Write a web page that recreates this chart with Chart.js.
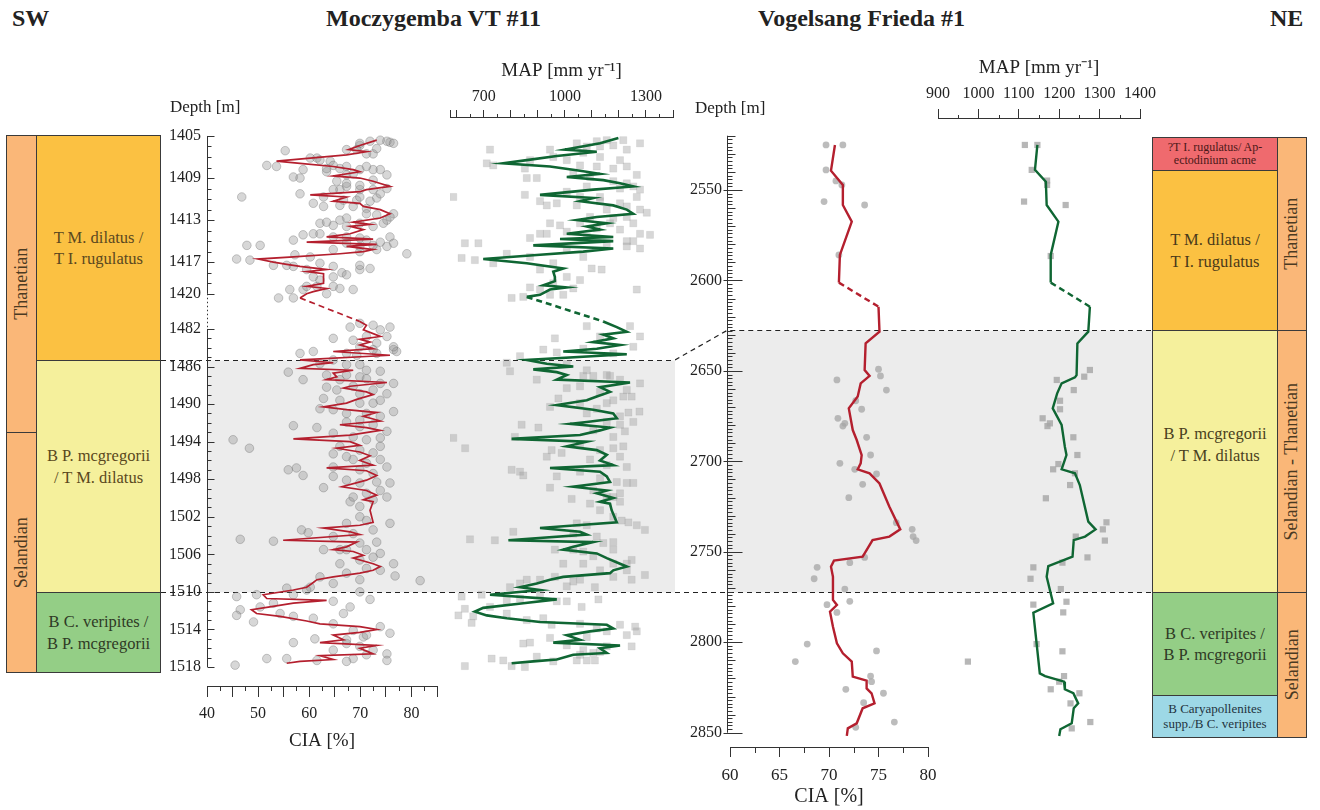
<!DOCTYPE html>
<html>
<head>
<meta charset="utf-8">
<title>CIA and MAP – Moczygemba VT #11 / Vogelsang Frieda #1</title>
<script src="https://cdn.jsdelivr.net/npm/chart.js@4.4.1/dist/chart.umd.min.js"></script>
<style>
  body { margin: 0; background: #fff; font-family: 'Liberation Serif', 'Times New Roman', serif; color: #222; }
  #page { position: relative; width: 1320px; height: 810px; overflow: hidden; }
  canvas { position: absolute; }
  .head { position: absolute; top: 5px; font-weight: bold; font-size: 24px; white-space: nowrap; }
  .lbl { position: absolute; font-size: 17px; white-space: nowrap; }
  .box { position: absolute; box-sizing: border-box; border: 1px solid #3a3a3a; display: flex;
         align-items: center; justify-content: center; text-align: center; font-size: 16.5px; line-height: 1.3; color: #5a4820; }
  .stage { background: #fab778; }
  .stage span { transform: rotate(-90deg); white-space: nowrap; font-size: 18px; color: #4a3a22; }
  .orange { background: #fbc142; }
  .yellow { background: #f5f09c; }
  .green { background: #94ce86; color: #2f3a25; }
  .red { background: #ef6a6e; color: #4a1818; font-size: 12px; line-height: 1.1; }
  .blue { background: #9dd8e6; color: #1f3340; font-size: 13px; line-height: 1.15; }
</style>
</head>
<body>
<div id="page">
  <canvas id="mczCia" width="289" height="646" style="left:161px; top:110px"></canvas>
  <canvas id="mczMap" width="225" height="631" style="left:450px; top:55px"></canvas>
  <canvas id="vgsCia" width="290" height="699" style="left:675px; top:110px"></canvas>
  <canvas id="vgsMap" width="280" height="692" style="left:900px; top:55px"></canvas>

  <div class="head" style="left:12px">SW</div>
  <div class="head" style="left:326px">Moczygemba VT #11</div>
  <div class="head" style="left:758px">Vogelsang Frieda #1</div>
  <div class="head" style="left:1270px">NE</div>
  <div class="lbl" style="left:170px; top:97px">Depth [m]</div>
  <div class="lbl" style="left:695px; top:98px">Depth [m]</div>

  <!-- left column (Moczygemba) -->
  <div class="box stage" style="left:6px; top:135px; width:31px; height:298px"><span>Thanetian</span></div>
  <div class="box stage" style="left:6px; top:432px; width:31px; height:241px"><span>Selandian</span></div>
  <div class="box orange" style="left:36px; top:135px; width:125px; height:226px">T M. dilatus /<br>T I. rugulatus</div>
  <div class="box yellow" style="left:36px; top:360px; width:125px; height:233px; padding-bottom:20px">B P. mcgregorii<br>/ T M. dilatus</div>
  <div class="box green" style="left:36px; top:592px; width:125px; height:81px">B C. veripites /<br>B P. mcgregorii</div>

  <!-- right column (Vogelsang) -->
  <div class="box red" style="left:1152px; top:137px; width:126px; height:34px">?T I. rugulatus/ Ap-<br>ectodinium acme</div>
  <div class="box orange" style="left:1152px; top:170px; width:126px; height:161px; color:#4a3a1a">T M. dilatus /<br>T I. rugulatus</div>
  <div class="box yellow" style="left:1152px; top:330px; width:126px; height:263px; padding-bottom:34px; color:#4a4020">B P. mcgregorii<br>/ T M. dilatus</div>
  <div class="box green" style="left:1152px; top:592px; width:126px; height:104px">B C. veripites /<br>B P. mcgregorii</div>
  <div class="box blue" style="left:1152px; top:695px; width:126px; height:43px">B Caryapollenites<br>supp./B C. veripites</div>
  <div class="box stage" style="left:1277px; top:137px; width:30px; height:194px"><span>Thanetian</span></div>
  <div class="box stage" style="left:1277px; top:330px; width:30px; height:263px"><span>Selandian - Thanetian</span></div>
  <div class="box stage" style="left:1277px; top:592px; width:30px; height:146px"><span>Selandian</span></div>
</div>

<script>
// ---- Moczygemba VT #11 : [depth m, value] ----
const mczCiaCurve = [
  [1405.4,73.2],[1405.9,69.9],[1406.3,67.7],[1406.5,71.2],[1406.8,67.3],[1407.1,60.2],[1407.4,53.6],[1407.6,58.2],
  [1407.9,64.7],[1408.2,68.6],[1408.4,69.9],[1408.8,64.7],[1409.0,69.9],[1409.3,72.5],[1409.8,75.8],[1410.1,71.2],
  [1410.3,69.9],[1410.6,60.2],[1410.8,67.3],[1411.2,64.7],[1411.4,69.9],[1411.7,70.6],[1412.0,73.9],[1412.4,75.8],
  [1412.8,73.9],[1413.2,68.6],[1413.4,71.9],[1413.6,68.0],[1413.9,70.6],[1414.3,68.0],[1414.6,63.4],[1414.8,72.5],
  [1415.1,59.5],[1415.3,73.2],[1415.5,67.3],[1415.8,72.5],[1416.0,70.6],[1416.2,66.0],[1416.5,56.9],[1416.7,50.0],
  [1417.0,53.0],[1417.2,55.6],[1417.4,58.2],[1417.7,63.4],[1417.9,59.5],[1418.1,62.8],[1418.7,62.8],[1419.0,62.8],
  [1419.3,59.5],[1419.5,63.4],[1419.8,60.8],[1420.0,59.5],[1420.4,58.2],
  [1481.2,69.9],[1481.6,71.2],[1482.1,70.6],[1482.8,73.9],[1483.1,69.9],[1483.4,71.9],[1483.7,69.9],[1484.1,72.5],
  [1484.4,64.7],[1484.8,75.8],[1485.3,58.2],[1485.6,64.7],[1485.8,60.8],[1486.2,58.2],[1486.4,68.6],[1486.7,64.7],
  [1487.1,65.4],[1487.4,63.4],[1487.7,75.2],[1488.1,68.0],[1488.3,66.7],[1488.7,71.2],[1489.0,72.5],[1489.5,69.3],
  [1489.9,67.3],[1490.3,62.8],[1490.6,67.3],[1490.9,73.2],[1491.3,70.6],[1491.8,73.9],[1492.2,66.0],[1492.5,71.2],
  [1492.8,73.9],[1493.3,68.0],[1493.7,56.9],[1494.0,68.0],[1494.4,69.9],[1494.7,65.4],[1495.1,69.9],[1495.5,71.9],
  [1496.0,69.9],[1496.5,72.5],[1496.8,63.4],[1497.1,71.2],[1497.6,73.2],[1498.1,71.2],[1498.8,66.4],[1499.2,71.2],
  [1499.7,73.2],[1500.2,70.6],[1500.4,72.5],[1501.3,71.9],[1502.6,72.5],[1502.9,69.9],[1503.2,62.8],[1503.6,68.0],
  [1503.9,69.9],[1504.5,54.9],[1504.7,69.3],[1505.2,67.3],[1505.5,64.7],[1505.7,68.6],[1506.1,70.6],[1506.4,68.6],
  [1507.0,72.5],[1507.3,73.9],[1507.7,72.5],[1508.0,69.9],[1508.4,64.7],[1508.7,61.5],[1509.0,60.8],[1509.5,59.5],
  [1509.8,56.9],[1510.3,51.0],[1510.7,51.7],[1510.9,63.4],[1511.2,56.9],[1511.6,52.3],[1511.9,48.7],[1512.3,49.7],
  [1512.6,54.3],[1513.1,59.5],[1513.4,62.1],[1513.7,69.9],[1514.0,73.2],[1514.3,69.9],[1514.6,64.7],[1515.1,66.7],
  [1515.4,62.1],[1515.7,73.2],[1516.0,69.9],[1516.6,72.5],[1516.8,62.1],[1517.2,64.7],[1517.4,58.2],[1517.6,55.6]
];
const mczCiaSamples = [
  [1405.4,73.9],[1405.6,75.8],[1405.5,71.9],[1405.9,69.9],[1406.3,67.3],[1406.7,72.5],[1406.4,55.3],[1407.8,51.7],
  [1407.9,53.6],[1408.2,58.8],[1407.1,61.5],[1407.4,64.1],[1408.1,66.0],[1408.2,69.9],[1408.2,72.5],[1408.7,75.2],
  [1408.9,56.9],[1409.0,58.2],[1408.4,63.4],[1408.7,67.3],[1409.3,65.4],[1409.8,67.3],[1410.1,69.9],[1410.0,75.2],
  [1409.2,72.5],[1410.8,46.8],[1410.5,58.2],[1411.4,60.8],[1411.7,62.8],[1410.1,66.0],[1411.1,69.3],[1410.9,73.2],
  [1411.9,71.2],[1412.4,76.5],[1413.0,75.2],[1412.8,67.3],[1413.5,64.7],[1413.3,62.1],[1414.4,58.8],[1414.3,60.8],
  [1414.9,56.9],[1414.6,67.3],[1414.7,69.9],[1414.6,75.8],[1415.2,76.5],[1415.5,69.9],[1415.8,73.2],[1415.4,47.8],
  [1415.4,50.4],[1416.7,45.8],[1416.8,48.4],[1417.3,53.0],[1416.3,57.2],[1416.5,60.2],[1416.2,79.1],[1417.7,69.9],
  [1417.6,71.9],[1418.0,66.4],[1418.4,60.8],[1419.3,64.7],[1419.6,68.6],[1419.6,56.2],[1420.4,54.0],[1420.4,56.9],
  [1419.6,58.8],[1419.3,61.5],[1417.3,55.6],
  [1405.7,69.9],[1405.5,75.2],[1406.2,73.2],[1406.3,69.3],[1406.7,71.2],[1405.7,76.5],[1407.1,60.2],[1407.3,62.1],
  [1407.8,64.7],[1407.9,67.3],[1407.9,71.2],[1408.2,73.9],[1408.6,68.6],[1408.1,63.4],[1409.5,67.3],[1409.7,69.9],
  [1410.1,72.5],[1410.5,73.9],[1410.1,64.7],[1410.8,62.8],[1411.1,66.7],[1410.8,69.9],[1411.2,71.9],[1411.6,66.0],
  [1411.7,68.6],[1412.4,71.2],[1412.5,73.2],[1412.7,75.8],[1413.3,69.9],[1413.6,72.5],[1413.6,67.3],[1413.2,63.4],
  [1413.0,66.0],[1413.3,74.5],[1414.3,62.1],[1414.6,64.7],[1415.2,67.3],[1414.9,71.2],[1415.1,73.9],[1415.5,75.2],
  [1416.0,69.9],[1415.4,72.5],[1415.8,64.7],[1417.1,62.1],[1417.4,64.7],[1417.7,59.5],[1417.4,56.9],[1417.3,69.9],
  [1418.2,67.3],[1418.7,62.1],[1418.4,64.7],[1419.3,59.5],[1420.0,63.4],[1419.5,66.0],
  [1481.8,68.0],[1481.6,72.5],[1481.8,75.8],[1483.0,64.7],[1483.2,68.6],[1482.8,75.2],[1484.2,76.5],[1484.6,58.2],
  [1484.6,67.3],[1484.6,73.2],[1484.4,77.1],[1484.4,60.8],[1486.6,55.9],[1487.4,58.8],[1485.8,69.9],[1487.1,69.9],
  [1486.9,67.3],[1487.8,76.5],[1488.2,63.4],[1488.5,65.4],[1488.9,75.2],[1489.4,62.8],[1490.5,62.1],[1489.9,72.5],
  [1490.8,76.5],[1491.9,67.3],[1492.4,69.9],[1492.3,56.9],[1492.5,61.5],[1492.9,75.2],[1493.8,45.1],[1494.7,48.3],
  [1495.3,64.7],[1495.6,67.3],[1494.5,73.9],[1496.7,75.2],[1497.0,55.9],[1496.8,57.5],[1497.6,58.8],[1497.7,64.7],
  [1498.3,73.2],[1498.9,62.8],[1500.4,68.0],[1498.4,75.8],[1500.9,69.9],[1502.7,75.8],[1502.4,71.2],[1503.4,58.5],
  [1503.7,59.8],[1504.4,46.5],[1504.6,53.0],[1505.5,62.8],[1505.5,66.0],[1504.7,73.2],[1506.3,72.5],[1507.0,76.5],
  [1508.3,76.8],[1508.8,81.7],[1508.0,67.3],[1508.4,62.1],[1509.6,55.6],[1509.5,60.2],[1510.0,69.9],[1510.5,45.8],
  [1510.3,49.7],[1511.9,46.5],[1512.5,45.8],[1513.2,49.1],[1510.8,71.9],[1511.0,64.7],[1511.6,68.0],[1512.8,60.8],
  [1512.3,66.7],[1513.7,73.9],[1514.4,75.8],[1515.0,61.1],[1515.4,56.9],[1515.5,67.3],[1514.8,70.6],[1516.2,72.5],
  [1516.6,75.2],[1517.1,51.7],[1517.1,55.6],[1517.3,61.5],[1517.1,68.6],[1517.3,75.2],[1517.8,45.5],
  [1481.4,69.9],[1482.1,73.9],[1482.8,71.2],[1483.5,73.2],[1483.9,69.9],[1483.9,76.5],[1484.2,72.5],[1484.8,69.3],
  [1485.7,62.1],[1485.3,64.7],[1485.8,67.3],[1486.4,71.2],[1486.5,73.9],[1486.9,63.4],[1487.4,66.0],[1487.3,71.2],
  [1487.8,73.9],[1488.1,68.6],[1488.5,72.5],[1488.9,69.9],[1489.6,66.0],[1489.9,69.9],[1489.6,73.9],[1490.6,64.7],
  [1491.0,67.3],[1491.0,71.2],[1491.3,73.9],[1491.7,69.9],[1492.2,72.5],[1493.1,64.7],[1493.5,68.6],[1493.8,71.2],
  [1493.6,73.9],[1494.5,66.0],[1494.9,69.9],[1495.2,72.5],[1495.9,68.6],[1496.3,71.2],[1495.9,73.9],[1496.7,64.7],
  [1497.0,69.9],[1497.4,72.5],[1498.1,67.3],[1498.4,69.9],[1499.2,73.9],[1499.5,71.2],[1499.9,68.6],[1500.2,72.5],
  [1499.9,75.2],[1502.0,69.9],[1502.7,67.3],[1503.4,72.5],[1503.8,68.6],[1504.1,64.7],[1504.8,69.9],[1505.5,67.3],
  [1505.5,71.2],[1505.9,73.9],[1506.6,69.9],[1507.0,66.0],[1507.5,71.2],[1507.7,73.9],[1508.7,69.9],[1509.1,64.7],
  [1509.8,59.5],[1510.3,56.9],[1511.2,53.0],[1511.6,50.4],[1512.3,54.3],[1512.6,56.9],[1513.4,64.7],[1514.1,68.6],
  [1514.6,71.2],[1515.1,67.3],[1515.8,69.9],[1516.2,64.7],[1516.7,71.2],[1517.4,67.3]
];
const mczMapCurve = [
  [1405.2,1198],[1405.7,1130],[1406.3,1000],[1406.5,1118],[1406.9,970],[1407.3,859],[1407.6,772],[1407.9,945],
  [1408.3,1056],[1408.6,1130],[1408.9,1007],[1409.2,1142],[1409.5,1204],[1409.8,1253],[1410.1,1105],[1410.6,908],
  [1410.9,1105],[1411.2,1056],[1411.6,1179],[1412.0,1229],[1412.4,1253],[1412.7,1118],[1413.0,1044],[1413.3,1155],
  [1413.6,1081],[1413.9,1130],[1414.3,1007],[1414.6,1179],[1414.8,982],[1415.0,1179],[1415.4,883],[1415.7,1179],
  [1416.0,1068],[1416.3,908],[1416.7,698],[1417.1,859],[1417.6,994],[1417.9,957],[1418.4,963],[1418.8,963],
  [1419.2,920],[1419.4,1007],[1419.6,945],[1420.1,908],[1420.3,859],
  [1481.2,1142],[1481.8,1192],[1482.3,1229],[1482.6,1142],[1483.0,1179],[1483.4,1105],[1483.7,1204],[1484.1,1118],
  [1484.4,994],[1484.7,1229],[1485.3,859],[1485.7,933],[1486.0,1031],[1486.3,883],[1486.6,970],[1486.9,1007],
  [1487.4,970],[1487.7,1241],[1488.2,1130],[1488.7,1167],[1489.2,1118],[1489.6,1081],[1490.1,970],[1490.6,1105],
  [1491.0,1179],[1491.5,1192],[1491.9,1081],[1492.1,1019],[1492.5,1167],[1492.8,1130],[1493.3,1056],[1493.7,803],
  [1494.0,1081],[1494.5,1007],[1494.9,1118],[1495.4,1155],[1496.0,1130],[1496.5,1179],[1496.8,945],[1497.2,1130],
  [1497.7,1155],[1498.3,1167],[1498.8,1031],[1499.2,1155],[1499.5,1118],[1500.0,1179],[1500.4,1130],[1500.6,1167],
  [1501.3,1173],[1502.6,1192],[1502.9,1044],[1503.2,908],[1503.6,1056],[1503.9,1081],[1504.5,791],[1504.7,1105],
  [1505.2,1031],[1505.5,994],[1505.9,1118],[1506.4,1155],[1507.0,1204],[1507.3,1229],[1507.7,1179],[1508.0,1167],
  [1508.4,994],[1508.7,945],[1509.1,896],[1509.5,834],[1509.8,908],[1510.3,723],[1510.8,970],[1511.2,846],
  [1511.7,698],[1512.1,667],[1512.5,711],[1512.8,785],[1513.2,908],[1513.5,1155],[1513.9,1179],[1514.2,1093],
  [1514.6,1007],[1515.1,1056],[1515.4,957],[1515.7,1204],[1516.0,1130],[1516.5,1155],[1516.7,1031],[1517.2,970],
  [1517.4,883],[1517.6,803]
];
const mczMapSamples = [
  [1406.3,723],[1407.8,735],[1407.6,711],[1408.1,852],[1409.0,896],[1409.0,859],[1407.3,871],[1406.3,945],
  [1407.0,957],[1405.7,1044],[1406.0,1081],[1406.0,1130],[1405.4,1155],[1405.4,1216],[1408.1,1179],[1407.9,1229],
  [1408.7,1266],[1410.8,587],[1410.6,852],[1411.2,908],[1411.6,933],[1411.4,970],[1411.6,1044],[1410.8,1056],
  [1410.8,1130],[1410.0,1204],[1409.8,1253],[1410.8,1266],[1412.3,1303],[1412.7,1229],[1412.0,1155],[1413.3,1167],
  [1413.3,945],[1413.5,982],[1414.3,908],[1414.3,933],[1414.7,871],[1414.1,1007],[1415.0,1229],[1415.0,1253],
  [1415.7,1278],[1414.4,1315],[1415.2,630],[1415.2,680],[1416.6,618],[1416.8,667],[1417.1,735],[1416.2,785],
  [1416.5,871],[1417.7,908],[1417.6,1099],[1417.7,1136],[1420.4,803],[1420.3,846],[1419.4,871],[1420.1,945],
  [1420.1,994],[1419.6,1266],
  [1405.5,1118],[1405.9,1179],[1406.3,1229],[1405.7,1278],[1406.6,1068],[1407.0,1130],[1407.3,1007],[1407.8,1056],
  [1407.9,1118],[1407.3,1204],[1408.5,1031],[1408.9,1093],[1409.3,1179],[1409.5,1229],[1410.1,1278],[1409.8,1081],
  [1410.3,1007],[1411.2,1130],[1411.4,1204],[1411.7,1229],[1412.0,1278],[1412.7,1093],[1412.8,1179],[1413.3,1253],
  [1413.3,1056],[1413.8,1118],[1413.9,1204],[1414.3,1278],[1414.6,1081],[1415.2,1155],[1415.5,1229],[1415.8,1007],
  [1416.5,1068],[1417.1,957],[1418.4,1007],[1418.7,1056],[1419.0,957],[1419.6,908],[1419.5,1031],
  [1481.7,1081],[1481.7,1241],[1482.8,1130],[1482.8,1278],[1483.0,963],[1484.2,920],[1483.9,1253],[1484.1,1068],
  [1484.5,970],[1484.9,834],[1484.6,1179],[1485.6,785],[1486.5,797],[1487.4,896],[1488.3,1007],[1487.0,1068],
  [1487.0,1105],[1487.0,1167],[1487.8,1278],[1489.2,1216],[1489.2,1247],[1490.3,945],[1489.4,976],[1491.0,1081],
  [1489.9,1155],[1490.9,1235],[1490.8,1276],[1492.2,840],[1492.5,902],[1492.9,1222],[1491.9,1253],[1492.2,1204],
  [1493.6,587],[1494.7,631],[1493.5,815],[1495.6,933],[1494.9,951],[1495.2,988],[1494.7,1179],[1494.5,1216],
  [1497.0,803],[1497.2,834],[1497.6,846],[1497.7,970],[1498.9,945],[1500.1,1025],[1496.7,1229],[1498.4,1229],
  [1498.4,1253],[1499.9,1179],[1500.4,1204],[1500.6,1093],[1502.7,1044],[1502.4,1210],[1502.6,1235],[1502.9,1266],
  [1503.4,1296],[1503.6,809],[1504.4,649],[1504.5,741],[1505.5,963],[1505.5,1031],[1505.7,1068],[1504.7,1179],
  [1504.8,1142],[1507.0,994],[1507.0,1068],[1506.6,1247],[1507.7,1229],[1508.7,1247],[1508.2,1296],[1508.7,859],
  [1508.7,908],[1509.1,834],[1509.5,797],[1508.4,963],[1508.9,1031],[1509.5,1111],[1510.5,618],[1510.3,692],
  [1510.7,834],[1511.0,970],[1511.0,1007],[1511.6,1062],[1510.8,1124],[1511.8,630],[1512.5,606],[1512.6,661],
  [1513.3,655],[1512.8,920],[1513.5,951],[1513.9,1118],[1513.5,1204],[1513.7,1260],[1514.2,1266],[1514.9,945],
  [1515.5,846],[1515.4,871],[1514.6,1229],[1515.8,1247],[1516.2,1068],[1516.5,1105],[1516.4,1130],[1517.1,729],
  [1517.3,772],[1516.9,896],[1517.3,1044],[1517.3,1081],[1517.3,1111],[1517.9,630],[1517.9,803],[1518.0,852],
  [1485.7,1007],[1486.4,1081],[1486.9,1155],[1487.4,1204],[1488.1,1056],[1488.7,1130],[1488.5,1229],[1489.6,1179],
  [1489.9,1056],[1490.5,1118],[1491.3,1204],[1491.9,1155],[1492.8,1105],[1493.5,1179],[1494.4,1056],[1494.9,1130],
  [1495.6,1204],[1495.9,1093],[1496.5,1155],[1497.2,1056],[1497.9,1130],[1498.3,1192],[1499.2,1105],[1499.9,1155],
  [1499.5,1204],[1501.3,1130],[1502.0,1179],[1502.9,1081],[1503.8,1031],[1504.1,1118],[1505.5,1179],[1506.2,1105],
  [1507.0,1179],[1507.0,1229],[1507.7,1130],[1508.4,1179],[1508.7,1056],[1509.4,1007],[1510.2,908],[1510.9,785],
  [1511.6,723],[1512.3,785],[1513.0,859],[1513.4,1056],[1514.2,1155],[1514.8,1081],[1515.7,1007],[1515.8,1155],
  [1516.7,1056],[1517.4,957]
];

// ---- Vogelsang Frieda #1 : [depth m, value] ----
const vgsCiaCurve = [
  [2525.1,70.6],[2539.3,70.2],[2547.2,71.4],[2558.3,71.4],[2567.5,72.3],[2585.9,71.1],[2601.2,71.0],[2614.5,75.0],
  [2628.3,75.1],[2634.8,73.7],[2649.5,73.6],[2652.8,74.1],[2656.9,73.2],[2664.2,72.9],[2670.7,72.0],[2682.7,72.4],
  [2688.2,72.8],[2696.5,73.3],[2701.1,73.2],[2704.4,72.9],[2706.6,74.1],[2712.2,75.1],[2725.1,76.1],[2737.6,77.2],
  [2741.6,76.1],[2743.5,74.4],[2752.7,73.4],[2754.9,70.5],[2758.2,70.2],[2763.8,70.4],[2776.6,70.4],[2779.4,70.8],
  [2783.1,70.1],[2791.4,70.4],[2800.6,70.8],[2806.1,71.4],[2810.7,72.3],[2819.0,72.4],[2821.2,73.8],[2825.5,73.8],
  [2828.2,74.3],[2833.8,74.6],[2836.5,73.4],[2844.8,72.8],[2847.6,71.9],[2851.8,71.8]
];
const vgsCiaSamples = [
  [2525.1,69.7],[2525.1,71.4],[2538.9,69.7],[2545.0,70.7],[2547.2,71.3],[2556.4,69.5],[2558.3,73.6],[2585.9,71.0],
  [2649.1,75.0],[2652.8,75.2],[2660.6,75.8],[2655.0,70.8],[2666.5,72.7],[2671.2,73.3],[2676.2,70.9],[2680.5,71.4],
  [2679.0,71.6],[2686.7,73.8],[2696.5,74.2],[2701.1,71.1],[2704.4,72.6],[2707.0,74.8],[2712.7,73.4],[2720.1,72.0],
  [2733.9,76.8],[2737.6,78.4],[2741.6,78.5],[2743.8,78.8],[2753.1,73.6],[2756.0,72.1],[2758.6,68.8],[2764.9,68.5],
  [2770.6,71.6],[2779.2,69.8],[2777.4,72.1],[2783.5,70.8],[2801.0,67.8],[2810.7,66.6],[2804.8,74.8],[2818.7,74.2],
  [2821.8,74.3],[2826.0,71.7],[2828.2,75.5],[2833.4,73.5],[2844.1,76.6],[2847.0,72.7]
];
const vgsMapCurve = [
  [2525.1,1146],[2538.9,1140],[2545.4,1167],[2558.3,1169],[2567.5,1198],[2585.9,1179],[2601.2,1179],[2614.5,1276],
  [2628.3,1272],[2634.8,1245],[2652.3,1243],[2653.6,1239],[2656.9,1206],[2662.4,1195],[2670.7,1184],[2679.9,1206],
  [2691.9,1214],[2696.5,1218],[2704.4,1206],[2706.6,1239],[2713.1,1251],[2733.3,1272],[2737.6,1290],[2741.6,1264],
  [2743.5,1236],[2752.7,1233],[2757.9,1173],[2763.8,1169],[2778.5,1185],[2783.7,1136],[2817.2,1152],[2818.7,1165],
  [2821.8,1212],[2826.0,1214],[2828.2,1235],[2833.8,1247],[2836.5,1236],[2844.8,1231],[2848.1,1203],[2851.8,1200]
];
const vgsMapSamples = [
  [2525.1,1115],[2525.1,1146],[2538.9,1132],[2544.8,1170],[2547.2,1170],[2556.4,1113],[2558.3,1216],[2586.5,1179],
  [2649.5,1276],[2653.2,1262],[2655.0,1194],[2660.6,1236],[2666.5,1202],[2671.2,1202],[2676.2,1159],[2680.5,1171],
  [2679.0,1177],[2686.7,1235],[2696.5,1245],[2701.5,1198],[2704.4,1185],[2706.6,1239],[2713.1,1227],[2720.4,1167],
  [2733.7,1317],[2737.6,1308],[2743.8,1313],[2741.6,1241],[2753.1,1270],[2756.0,1208],[2758.6,1136],[2764.9,1129],
  [2770.6,1204],[2777.6,1218],[2783.5,1210],[2779.2,1136],[2801.0,1144],[2805.0,1208],[2810.7,974],[2818.7,1212],
  [2821.8,1200],[2826.0,1179],[2828.2,1250],[2833.8,1228],[2844.1,1277],[2847.6,1231]
];

// depth axes
const mczDepthLabels = [1405, 1409, 1413, 1417, 1420, 1482, 1486, 1490, 1494, 1498, 1502, 1506, 1510, 1514, 1518];
const vgsDepthLabels = [2550, 2600, 2650, 2700, 2750, 2800, 2850];
const mczZone = [1485.3, 1510.0];   // grey interval, dashed boundaries
const vgsZone = [2627.4, 2772.2];
const mczGap = [1421, 1481];        // dashed (no samples) part of the curves
const vgsGap = [2602, 2614];

// value axes
const mczCiaTicks = [40, 45, 50, 55, 60, 65, 70, 75, 80, 85];
const mczCiaLabels = [40, 50, 60, 70, 80];
const mczCiaMinor = [42.5, 47.5, 52.5, 57.5, 62.5, 67.5, 72.5, 77.5, 82.5];
const mczMapTicks = [575, 600, 700, 800, 900, 1000, 1100, 1200, 1300, 1400];
const mczMapLabels = [700, 1000, 1300];
const mczMapMinor = [650, 750, 850, 950, 1050, 1150, 1250, 1350];
const vgsCiaTicks = [60, 65, 70, 75, 80];
const vgsCiaMinor = [62.5, 67.5, 72.5, 77.5];
const vgsMapTicks = [900, 1000, 1100, 1200, 1300, 1400];
const vgsMapMinor = [950, 1050, 1150, 1250, 1350];

// Moczygemba depth axis is broken between 1420 and 1482 m
function mczPos(d) { return d < 1450 ? 1405 + (d - 1405) * 1.12 : d - 56.45; }
function vgsPos(d) { return d; }

Chart.defaults.font.family = "'Liberation Serif', 'Times New Roman', serif";
Chart.defaults.color = '#222';
Chart.defaults.layout.autoPadding = false;
Chart.defaults.plugins.legend.display = false;
Chart.defaults.plugins.tooltip.enabled = false;

const toPoints = (rows, pos) => rows.map(r => ({ x: r[1], y: pos(r[0]) }));

function curveSet(rows, pos, color, width, gap) {
  return {
    data: toPoints(rows, pos), showLine: true, borderColor: color, borderWidth: width,
    pointRadius: 0, tension: 0, clip: false,
    segment: {
      borderDash: ctx => (rows[ctx.p0DataIndex][0] < gap[0] && rows[ctx.p1DataIndex][0] > gap[1]) ? [6, 4] : undefined
    }
  };
}
function sampleSet(rows, pos, style) {
  return Object.assign({ data: toPoints(rows, pos), showLine: false, clip: false }, style);
}

const circleMcz = { pointRadius: 4.3, pointBackgroundColor: 'rgba(150,150,150,0.38)', pointBorderColor: 'rgba(100,100,100,0.42)', pointBorderWidth: 0.8 };
const squareMcz = { pointStyle: 'rect', pointRadius: 5, pointBackgroundColor: 'rgba(160,160,160,0.42)', pointBorderColor: 'rgba(150,150,150,0.3)', pointBorderWidth: 0.5 };
const circleVgs = { pointRadius: 3.4, pointBackgroundColor: 'rgba(165,165,165,0.75)', pointBorderWidth: 0 };
const squareVgs = { pointStyle: 'rect', pointRadius: 4.4, pointBackgroundColor: 'rgba(165,165,165,0.8)', pointBorderWidth: 0 };

function valueAxis(o) {
  return {
    type: 'linear', position: o.position, min: o.min, max: o.max,
    afterBuildTicks: s => { s.ticks = o.ticks.map(v => ({ value: v })); },
    afterFit: s => { s.height = o.height; s.paddingLeft = 0; s.paddingRight = 0; },
    ticks: { autoSkip: false, maxRotation: 0, padding: o.pad, font: { size: o.fontSize }, color: '#222',
             callback: v => (o.labels.includes(v) ? String(v) : '') },
    grid: { drawOnChartArea: false, tickLength: o.tickLength, tickColor: '#333' },
    border: { color: '#333' },
    title: { display: true, text: o.title, font: { size: o.titleSize }, color: '#222', padding: o.titlePad }
  };
}
function depthScale(o) {
  return {
    type: 'linear', reverse: true, min: o.min, max: o.max, display: o.show,
    afterBuildTicks: s => { s.ticks = o.labels.map(d => ({ value: o.pos(d) })); },
    afterFit: s => { s.width = o.width; s.paddingTop = 0; s.paddingBottom = 0; },
    ticks: { autoSkip: false, padding: o.pad, font: { size: 16 }, color: '#222', callback: (v, i) => String(o.labels[i]) },
    grid: { display: false, drawTicks: false },
    border: { display: false }
  };
}

// grey interval with dashed boundaries; offsets are relative to the chart area
function zoneBand(pos, zone, o) {
  return {
    id: 'zoneBand',
    beforeDatasetsDraw(chart) {
      const { ctx, chartArea } = chart;
      const y = chart.scales.y;
      const yTop = Math.round(y.getPixelForValue(pos(zone[0]))) + 0.5;
      const yBot = Math.round(y.getPixelForValue(pos(zone[1]))) + 0.5;
      const bandL = chartArea.left + o.bandL;
      const dashL = chartArea.left + o.dashL;
      const right = chartArea.right + o.right;
      ctx.save();
      ctx.fillStyle = '#ececec';
      ctx.fillRect(bandL, yTop, right - bandL, yBot - yTop);
      ctx.strokeStyle = '#222';
      ctx.lineWidth = 1.2;
      ctx.setLineDash([5, 4]);
      ctx.beginPath();
      if (o.link) {
        ctx.moveTo(dashL, o.link(chart));
        ctx.lineTo(bandL, yTop);
      } else {
        ctx.moveTo(dashL, yTop);
      }
      ctx.lineTo(right, yTop);
      ctx.moveTo(dashL, yBot);
      ctx.lineTo(right, yBot);
      ctx.stroke();
      ctx.restore();
    }
  };
}

// depth axis line with inward ticks
function depthAxis(pos, lines, marks, shift) {
  return {
    id: 'depthAxis',
    afterDraw(chart) {
      const { ctx } = chart;
      const y = chart.scales.y;
      const x = Math.round(chart.chartArea.left + shift) + 0.5;
      ctx.save();
      ctx.strokeStyle = '#333';
      ctx.lineWidth = 1;
      lines.forEach(([d0, d1, dotted]) => {
        ctx.setLineDash(dotted ? [1.5, 2.5] : []);
        ctx.beginPath();
        ctx.moveTo(x, y.getPixelForValue(pos(d0)));
        ctx.lineTo(x, y.getPixelForValue(pos(d1)));
        ctx.stroke();
      });
      ctx.setLineDash([]);
      marks.forEach(([d, back, fwd]) => {
        const py = Math.round(y.getPixelForValue(pos(d))) + 0.5;
        ctx.beginPath();
        ctx.moveTo(x - back, py);
        ctx.lineTo(x + fwd, py);
        ctx.stroke();
      });
      ctx.restore();
    }
  };
}

// short in-between ticks on the value axes
function minorTicks(values, len) {
  return {
    id: 'minorTicks',
    afterDraw(chart) {
      const s = chart.scales.x, ctx = chart.ctx;
      const top = s.position === 'top';
      const y0 = top ? s.bottom : s.top;
      ctx.save();
      ctx.strokeStyle = '#333';
      ctx.lineWidth = 1;
      values.forEach(v => {
        const px = Math.round(s.getPixelForValue(v)) + 0.5;
        ctx.beginPath();
        ctx.moveTo(px, y0);
        ctx.lineTo(px, top ? y0 - len : y0 + len);
        ctx.stroke();
      });
      ctx.restore();
    }
  };
}

// tick marks for the depth axes
const mczMarks = [];
for (let d = 1405; d <= 1518; d++) {
  if (d > 1420 && d < 1482) continue;
  mczMarks.push([d, 0, mczDepthLabels.includes(d) ? 7 : 4]);
}
const vgsMarks = [];
for (let d = 2520; d <= 2850; d += 2) {
  vgsMarks.push(d % 50 === 0 ? [d, 4, 15] : d % 10 === 0 ? [d, 0, 8] : [d, 0, 5]);
}

const mczRange = { min: 1402.98, max: 1463.57 };
const vgsRange = { min: 2510.2, max: 2857.9 };

const mczCiaChart = new Chart(document.getElementById('mczCia'), {
  type: 'scatter',
  data: { datasets: [
    curveSet(mczCiaCurve, mczPos, '#b41f2e', 1.7, mczGap),
    sampleSet(mczCiaSamples, mczPos, circleMcz)
  ] },
  options: {
    responsive: false, animation: false,
    layout: { padding: { top: 7, right: 13, bottom: 0, left: 0 } },
    scales: {
      x: valueAxis({ position: 'bottom', min: 40, max: 85, ticks: mczCiaTicks, labels: mczCiaLabels, height: 70,
                     pad: 7, tickLength: 11, fontSize: 16, title: 'CIA [%]', titleSize: 19, titlePad: { top: 0, bottom: 4 } }),
      y: depthScale({ pos: mczPos, min: mczRange.min, max: mczRange.max, labels: mczDepthLabels, width: 46, pad: 6, show: true })
    }
  },
  plugins: [
    zoneBand(mczPos, mczZone, { bandL: 1, dashL: -46, right: 13 }),
    depthAxis(mczPos, [[1405, 1420, false], [1420, 1482, true], [1482, 1518, false]], mczMarks, 0),
    minorTicks(mczCiaMinor, 5)
  ]
});

new Chart(document.getElementById('mczMap'), {
  type: 'scatter',
  data: { datasets: [
    curveSet(mczMapCurve, mczPos, '#0f6633', 2.6, mczGap),
    sampleSet(mczMapSamples, mczPos, squareMcz)
  ] },
  options: {
    responsive: false, animation: false,
    layout: { padding: { top: 0, right: 2, bottom: 0, left: 0 } },
    scales: {
      x: valueAxis({ position: 'top', min: 575, max: 1400, ticks: mczMapTicks, labels: mczMapLabels, height: 62,
                     pad: 4, tickLength: 7, fontSize: 16, title: 'MAP [mm yr\u207B\u00B9]', titleSize: 19, titlePad: { top: 5, bottom: 0 } }),
      y: depthScale({ pos: mczPos, min: mczRange.min, max: mczRange.max, labels: mczDepthLabels, width: 0, pad: 0, show: false })
    }
  },
  plugins: [
    zoneBand(mczPos, mczZone, { bandL: 0, dashL: 0, right: 2 }),
    minorTicks(mczMapMinor, 3)
  ]
});

new Chart(document.getElementById('vgsCia'), {
  type: 'scatter',
  data: { datasets: [
    curveSet(vgsCiaCurve, vgsPos, '#b41f2e', 2.4, vgsGap),
    sampleSet(vgsCiaSamples, vgsPos, circleVgs)
  ] },
  options: {
    responsive: false, animation: false,
    layout: { padding: { top: 8, right: 37, bottom: 0, left: 0 } },
    scales: {
      x: valueAxis({ position: 'bottom', min: 60, max: 80, ticks: vgsCiaTicks, labels: vgsCiaTicks, height: 62,
                     pad: 8, tickLength: 10, fontSize: 17, title: 'CIA [%]', titleSize: 20, titlePad: { top: 0, bottom: 0 } }),
      y: depthScale({ pos: vgsPos, min: vgsRange.min, max: vgsRange.max, labels: vgsDepthLabels, width: 55, pad: 8, show: true })
    }
  },
  plugins: [
    zoneBand(vgsPos, vgsZone, {
      bandL: -3, dashL: -55, right: 2,
      link: chart => mczCiaChart.scales.y.getPixelForValue(mczPos(mczZone[0])) + mczCiaChart.canvas.offsetTop - chart.canvas.offsetTop
    }),
    depthAxis(vgsPos, [[2520, 2850, false]], vgsMarks, -3),
    minorTicks(vgsCiaMinor, 6)
  ]
});

new Chart(document.getElementById('vgsMap'), {
  type: 'scatter',
  data: { datasets: [
    curveSet(vgsMapCurve, vgsPos, '#0f6633', 2.4, vgsGap),
    sampleSet(vgsMapSamples, vgsPos, squareVgs)
  ] },
  options: {
    responsive: false, animation: false,
    layout: { padding: { top: 0, right: 40, bottom: 0, left: 38 } },
    scales: {
      x: valueAxis({ position: 'top', min: 900, max: 1400, ticks: vgsMapTicks, labels: vgsMapTicks, height: 63,
                     pad: 6, tickLength: 9, fontSize: 16, title: 'MAP [mm yr\u207B\u00B9]', titleSize: 19, titlePad: { top: 2, bottom: 0 } }),
      y: depthScale({ pos: vgsPos, min: vgsRange.min, max: vgsRange.max, labels: vgsDepthLabels, width: 0, pad: 0, show: false })
    }
  },
  plugins: [
    zoneBand(vgsPos, vgsZone, { bandL: -8, dashL: -8, right: 12 }),
    minorTicks(vgsMapMinor, 3)
  ]
});
</script>
</body>
</html>
